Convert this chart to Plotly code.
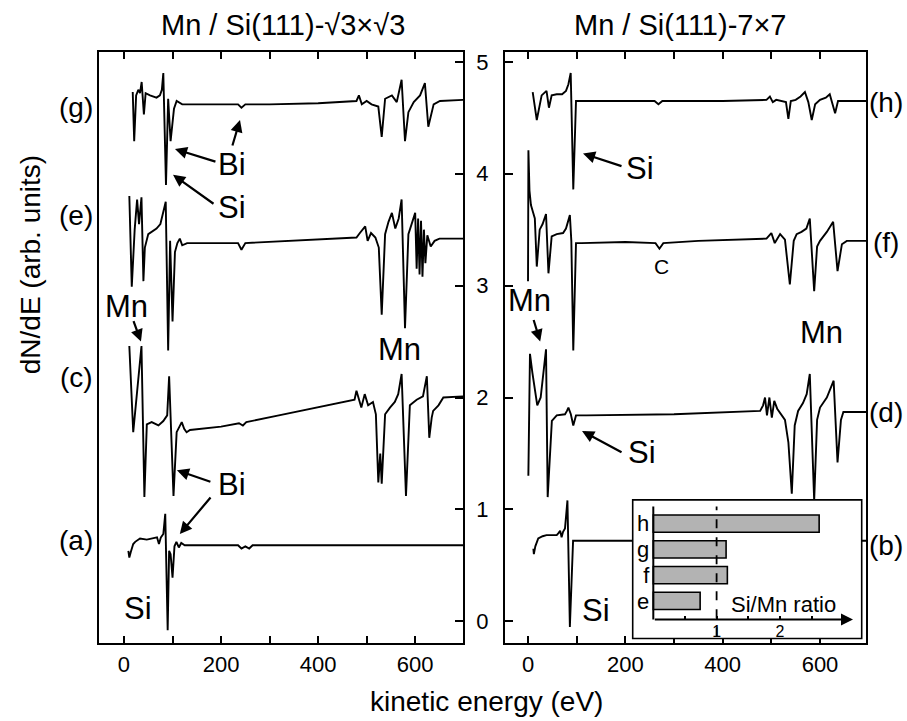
import plotly.graph_objects as go

W, H = 907, 721
FONT = "Liberation Sans"

# ---------------- data (E in eV, dN/dE in offset units) ----------------
# left panel: Mn / Si(111)-sqrt3 x sqrt3
spec_g = [(18, 4.73), (21, 4.29), (25, 4.70), (29.5, 4.75), (33, 4.72), (36.4, 4.82), (41, 4.53), (44.6, 4.72),
          (53.6, 4.70), (67, 4.68), (74, 4.70), (78, 4.75), (81, 4.90), (86.5, 3.90), (91, 4.67), (96, 4.29),
          (103, 4.58), (108.5, 4.65), (120, 4.62), (200, 4.62), (235, 4.62), (242, 4.59), (250, 4.62),
          (300, 4.62), (400, 4.63), (479, 4.65), (484, 4.70), (490, 4.62), (500, 4.65), (510, 4.62),
          (524, 4.60), (531, 4.33), (538, 4.67), (552, 4.70), (562, 4.64), (572, 4.84), (579, 4.29),
          (586, 4.55), (597, 4.64), (610, 4.70), (620, 4.81), (627, 4.42), (638, 4.62), (651, 4.65), (700, 4.66)]
spec_e = [(11, 3.80), (16, 2.99), (22, 3.50), (27, 3.77), (31, 3.55), (36, 3.79), (40, 3.04), (43, 3.34),
          (50, 3.46), (67, 3.51), (75, 3.55), (81, 3.65), (86, 3.75), (91, 2.42), (95, 3.40), (100, 2.68),
          (105, 3.30), (110, 3.38), (115, 3.42), (120, 3.36), (130, 3.38), (235, 3.38), (242, 3.32),
          (250, 3.38), (350, 3.40), (479, 3.43), (486, 3.47), (497, 3.53), (502, 3.40), (509, 3.47),
          (518, 3.43), (525, 3.34), (531, 2.74), (538, 3.46), (545, 3.57), (552, 3.65), (559, 3.51),
          (566, 3.60), (572, 3.77), (579, 2.62), (586, 3.46), (593, 3.55), (600, 3.65), (603, 3.15),
          (606, 3.60), (609, 3.10), (612, 3.58), (615, 3.08), (618, 3.50), (621, 3.20), (625, 3.45),
          (632, 3.35), (640, 3.40), (650, 3.42), (700, 3.42)]
spec_c = [(11, 2.46), (19, 1.69), (36, 2.46), (42, 1.11), (47, 1.76), (57, 1.78), (71, 1.75), (81, 1.79),
          (89, 1.84), (93, 2.19), (102, 1.12), (108.5, 1.69), (119, 1.78), (124, 1.72), (129, 1.69),
          (136, 1.71), (200, 1.74), (237, 1.77), (245, 1.75), (252, 1.78), (319, 1.84), (388, 1.90),
          (475, 1.98), (479, 2.06), (489, 1.91), (496, 2.03), (503, 1.93), (513, 1.96), (519, 1.85),
          (524, 1.24), (528, 1.50), (531, 1.23), (538, 1.85), (548, 1.91), (558, 1.96), (565, 2.03),
          (572, 2.21), (581, 1.12), (589, 1.93), (603, 1.98), (616, 2.01), (624, 2.19), (629, 1.64),
          (634, 1.82), (637, 1.88), (648, 1.93), (658, 2.00), (700, 2.01)]
spec_a = [(9, 0.63), (11, 0.57), (14, 0.62), (19, 0.69), (23, 0.71), (33, 0.74), (47, 0.73), (60, 0.74),
          (68, 0.75), (72, 0.69), (76, 0.75), (81, 0.78), (85, 0.96), (90, -0.08), (93, 0.63), (96, 0.60),
          (100, 0.39), (104, 0.67), (108, 0.71), (113, 0.66), (118, 0.70), (125, 0.68), (235, 0.68),
          (242, 0.65), (250, 0.67), (258, 0.65), (265, 0.68), (400, 0.68), (700, 0.68)]

# right panel: Mn / Si(111)-7x7
spec_h = [(9.6, 4.73), (18, 4.48), (28, 4.70), (38, 4.74), (43, 4.59), (48.6, 4.70), (59, 4.71), (70, 4.71),
          (78, 4.74), (83, 4.80), (87.7, 4.90), (93, 3.86), (98.6, 4.65), (110, 4.65), (260, 4.65),
          (268, 4.62), (276, 4.65), (400, 4.65), (490, 4.66), (497, 4.69), (503, 4.64), (510, 4.66),
          (520, 4.65), (530, 4.64), (535, 4.49), (540, 4.65), (550, 4.66), (560, 4.69), (569, 4.73),
          (576, 4.64), (583, 4.48), (590, 4.62), (600, 4.66), (612, 4.68), (620, 4.71), (631, 4.54),
          (637, 4.65), (650, 4.65), (700, 4.65)]
spec_f = [(0, 3.04), (0.8, 4.21), (3, 3.85), (6, 3.72), (10, 3.66), (14, 3.60), (18, 3.17), (24, 3.50),
          (30, 3.55), (37, 3.64), (42, 3.11), (48.6, 3.44), (59, 3.46), (72, 3.47), (78, 3.51), (83, 3.60),
          (86, 3.63), (89, 3.40), (93, 2.42), (98.6, 3.38), (110, 3.38), (200, 3.39), (262, 3.38),
          (270, 3.33), (278, 3.38), (350, 3.40), (450, 3.41), (490, 3.42), (500, 3.47), (507, 3.38),
          (518, 3.46), (528, 3.41), (538, 3.01), (546, 3.40), (552, 3.46), (562, 3.48), (572, 3.51),
          (579, 3.60), (588, 2.95), (594, 3.35), (600, 3.40), (614, 3.48), (627, 3.57), (636, 3.13),
          (645, 3.37), (655, 3.40), (700, 3.40)]
spec_d = [(0.7, 1.30), (4, 2.39), (9, 2.22), (14, 2.06), (19, 1.93), (26, 2.00), (32, 2.21), (37, 2.43),
          (40.4, 1.11), (49, 1.79), (59, 1.84), (76, 1.85), (80, 1.88), (83, 1.91), (88, 1.85), (93, 1.75),
          (98.6, 1.84), (120, 1.84), (300, 1.85), (400, 1.87), (477, 1.88), (483, 1.93), (487, 2.00),
          (491, 1.84), (496, 2.00), (501, 1.82), (506, 1.97), (512, 1.90), (520, 1.85), (528, 1.80),
          (535, 1.60), (542, 1.14), (548, 1.75), (555, 1.88), (565, 1.95), (572.6, 2.03), (579, 2.21),
          (588, 1.08), (594, 1.80), (600, 1.91), (614, 2.00), (628, 2.15), (636, 1.42), (643, 1.80),
          (648, 1.87), (700, 1.87)]
spec_b = [(11, 0.65), (12, 0.60), (15, 0.67), (21, 0.74), (30, 0.76), (38, 0.77), (50, 0.77), (59, 0.77),
          (63, 0.79), (66, 0.81), (69, 0.75), (72, 0.80), (76, 0.83), (81, 1.08), (86, -0.05), (90, 0.50),
          (92.6, 0.72), (100, 0.72), (300, 0.72), (700, 0.72)]

# inset: Si/Mn ratio
ratio_labels = ["e", "f", "g", "h"]
ratio_values = [0.74, 1.17, 1.15, 2.62]
ratio_ticks = [0.5, 1, 1.5, 2, 2.5]
ratio_ticktext = ["", "1", "", "2", ""]

x_tick_vals = [0, 100, 200, 300, 400, 500, 600]
x_tick_text = ["0", "", "200", "", "400", "", "600"]
y_tick_vals = [0, 1, 2, 3, 4, 5]
y_tick_text = ["0", "1", "2", "3", "4", "5"]


def fx(px):
    return px / W


def fy(py):
    return 1 - py / H


fig = go.Figure()

for spec, xa in [(spec_g, "x"), (spec_e, "x"), (spec_c, "x"), (spec_a, "x"),
                 (spec_h, "x2"), (spec_f, "x2"), (spec_d, "x2"), (spec_b, "x2")]:
    fig.add_trace(go.Scatter(
        x=[p[0] for p in spec], y=[p[1] for p in spec], mode="lines",
        line=dict(color="black", width=1.9), xaxis=xa, yaxis="y" if xa == "x" else "y2",
        showlegend=False, hoverinfo="skip"))

fig.add_trace(go.Bar(
    x=ratio_values, y=list(range(len(ratio_labels))), orientation="h", width=0.67,
    marker=dict(color="#b3b3b3", line=dict(color="black", width=1.6)),
    xaxis="x3", yaxis="y3", showlegend=False, hoverinfo="skip"))

# inset pixel mapping helpers
ix0, ipx = 653.3, 63.3       # pixel of ratio 0, pixels per unit
iy0, ipy = 600.5, 25.83      # pixel of category 0 (e), pixels per category


def ix(px):
    return (px - ix0) / ipx


def iy(py):
    return (iy0 - py) / ipy


ybox = (-0.196, 5.089)
axis_common = dict(showgrid=False, zeroline=False, showline=True, linecolor="black", linewidth=2,
                   ticks="inside", tickcolor="black", tickwidth=1.5,
                   tickfont=dict(family=FONT, size=22, color="black"))

fig.update_layout(
    width=W, height=H, autosize=False,
    margin=dict(l=0, r=0, t=0, b=0),
    paper_bgcolor="white", plot_bgcolor="white",
    font=dict(family=FONT, color="black"),
    xaxis=dict(domain=[fx(99), fx(463)], range=[-51.5, 698.5], anchor="y",
               tickvals=x_tick_vals, ticktext=x_tick_text, ticklen=7, mirror="ticks", **axis_common),
    yaxis=dict(domain=[fy(643), fy(50)], range=list(ybox), anchor="x", side="right",
               tickvals=y_tick_vals, ticklen=8, showticklabels=False, mirror=True, **axis_common),
    xaxis2=dict(domain=[fx(505), fx(866)], range=[-47.3, 694.5], anchor="y2",
                tickvals=x_tick_vals, ticktext=x_tick_text, ticklen=7, mirror="ticks", **axis_common),
    yaxis2=dict(domain=[fy(643), fy(50)], range=list(ybox), anchor="x2", side="left",
                tickvals=y_tick_vals, ticktext=y_tick_text, ticklen=8, mirror=True,
                ticklabelstandoff=10, **axis_common),
    xaxis3=dict(domain=[fx(632.7), fx(861.7)], range=[ix(632.7), ix(861.7)], anchor="free",
                position=fy(619.3), showgrid=False, zeroline=False, showline=False,
                tickvals=ratio_ticks, ticktext=ratio_ticktext, ticks="inside", ticklen=4,
                tickcolor="black", tickwidth=1.5, tickfont=dict(family=FONT, size=16, color="black")),
    yaxis3=dict(domain=[fy(638.3), fy(499.3)], range=[iy(638.3), iy(499.3)], anchor="free",
                position=fx(653.3), showgrid=False, zeroline=False, showline=False,
                tickvals=list(range(len(ratio_labels))), ticktext=ratio_labels, ticks="",
                ticklabelstandoff=4, tickfont=dict(family=FONT, size=22, color="black")),
)

shapes = [
    dict(type="rect", xref="x3 domain", yref="y3 domain", x0=0, x1=1, y0=0, y1=1,
         line=dict(color="black", width=1.6), layer="above"),
    dict(type="line", xref="x3", yref="y3", x0=0, x1=0, y0=iy(619.3), y1=iy(506),
         line=dict(color="black", width=2), layer="above"),
    dict(type="line", xref="x3", yref="y3", x0=1, x1=1, y0=iy(636), y1=iy(506),
         line=dict(color="black", width=1.8, dash="dash"), layer="above"),
]
fig.update_layout(shapes=shapes)

ann = []


def label(text, px, py, size=28):
    ann.append(dict(text=text, x=fx(px), y=fy(py), xref="paper", yref="paper", showarrow=False,
                    xanchor="center", yanchor="middle", font=dict(family=FONT, size=size, color="black")))


def arrow(xref, e, v, ax, ay):
    ann.append(dict(text="", x=e, y=v, xref=xref, yref="y" if xref == "x" else "y2", showarrow=True,
                    ax=ax, ay=ay, arrowhead=2, arrowsize=1.1, arrowwidth=2.2, arrowcolor="black"))


# titles
label("Mn / Si(111)-\u221a3\u00d7\u221a3", 283, 23, 29)
label("Mn / Si(111)-7\u00d77", 680, 23, 29)
label("kinetic energy (eV)", 486, 701, 28)
ann.append(dict(text="dN/dE (arb. units)", x=fx(30), y=fy(264), xref="paper", yref="paper",
                showarrow=False, textangle=-90, xanchor="center", yanchor="middle",
                font=dict(family=FONT, size=28, color="black")))

# curve labels
for t, py in [("(g)", 106), ("(e)", 214), ("(c)", 377), ("(a)", 540)]:
    label(t, 76, py, 28)
for t, py in [("(h)", 101), ("(f)", 241), ("(d)", 412), ("(b)", 545)]:
    label(t, 886, py, 28)

# element annotations
AS = 31
label("Bi", 232, 163, AS)
arrow("x", 105, 4.22, 42, 13)
arrow("x", 239, 4.48, -8, 27)
label("Si", 232, 206, AS)
arrow("x", 101, 3.99, 42, 30)
label("Mn", 127, 305, AS)
arrow("x", 35, 2.50, -8, -22)
label("Mn", 399, 348, AS)
label("Bi", 232, 484, AS)
arrow("x", 109, 1.35, 35, 12)
arrow("x", 115, 0.78, 32, -38)
label("Si", 138, 608, AS)

label("Si", 640, 167, AS)
arrow("x2", 113, 4.18, 40, 13)
label("C", 661, 265, 21)
label("Mn", 529, 299, AS)
arrow("x2", 25, 2.50, -7, -23)
label("Mn", 821, 331, AS)
label("Si", 642, 452, AS)
arrow("x2", 111, 1.70, 41, 22)
label("Si", 596, 610, AS)

# inset arrow axis and title
ann.append(dict(text="", x=ix(853), y=iy(619.3), xref="x3", yref="y3", ax=0, ay=iy(619.3),
                axref="x3", ayref="y3", showarrow=True, arrowhead=2, arrowsize=1.2, arrowwidth=2,
                arrowcolor="black"))
label("Si/Mn ratio", 783, 604, 22)

fig.update_layout(annotations=ann)
fig.write_html("out.html", config={"displayModeBar": False},
               post_script="document.body.style.margin='0';document.body.style.overflow='hidden';")
